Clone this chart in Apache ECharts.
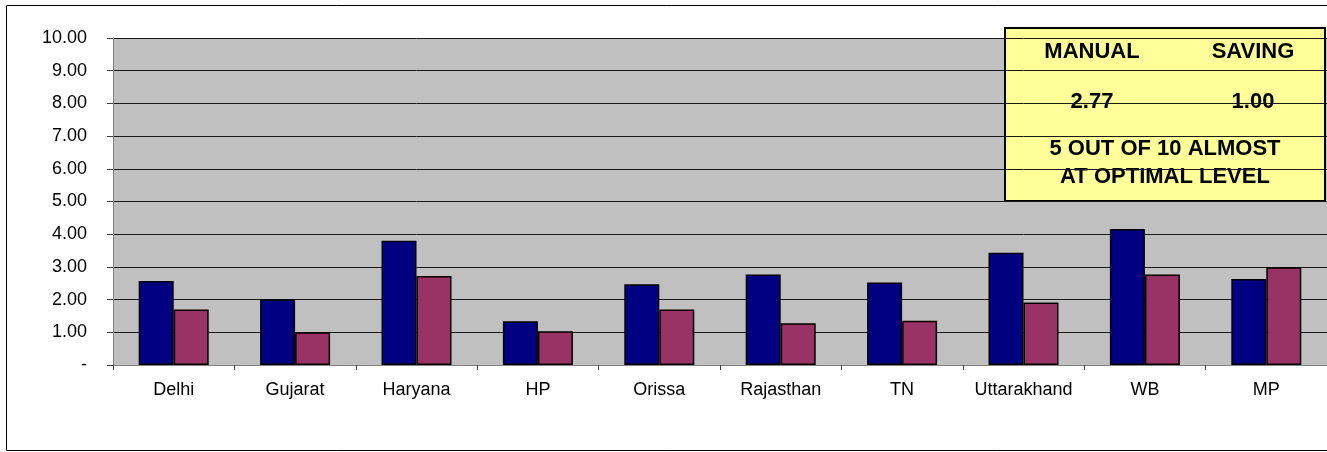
<!DOCTYPE html>
<html>
<head>
<meta charset="utf-8">
<title>Manual vs Saving by State</title>
<script src="https://cdn.jsdelivr.net/npm/echarts@6/dist/echarts.min.js"></script>
<style>
  html, body { margin: 0; padding: 0; background: #ffffff; }
  #chart { width: 1327px; height: 452px; }
</style>
</head>
<body>
<div id="chart"></div>
<script>
// States along the category axis
const states = ['Delhi', 'Gujarat', 'Haryana', 'HP', 'Orissa', 'Rajasthan', 'TN', 'Uttarakhand', 'WB', 'MP'];

// Values per state
const manualValues = [2.57, 2.00, 3.80, 1.34, 2.47, 2.77, 2.52, 3.43, 4.16, 2.63];
const savingValues = [1.70, 1.00, 2.72, 1.03, 1.70, 1.28, 1.35, 1.91, 2.77, 2.99];

// Value axis ticks
const yMin = 0;
const yMax = 10;
const yStep = 1;

// Summary box contents
const boxHeaders = ['MANUAL', 'SAVING'];
const boxValues = ['2.77', '1.00'];
const boxNote = ['5 OUT OF 10 ALMOST', 'AT OPTIMAL LEVEL'];

const FONT = '"Liberation Sans", Arial, sans-serif';
const BOX_FONT = 'bold 22px ' + FONT;

const chart = echarts.init(document.getElementById('chart'), null, { renderer: 'canvas' });

const barStyle = (color) => ({ color: color, borderColor: '#000000', borderWidth: 1.5 });

const boxText = (x, y, text) => ({
  type: 'text', x: x, y: y,
  style: { text: text, font: BOX_FONT, fill: '#000000', align: 'center', verticalAlign: 'middle' }
});

chart.setOption({
  backgroundColor: '#ffffff',
  animation: false,
  grid: { left: 113, top: 38, right: 0, bottom: 87, show: true, backgroundColor: '#C0C0C0', borderWidth: 0 },
  xAxis: {
    type: 'category',
    data: states,
    axisLine: { show: true, lineStyle: { color: '#808080', width: 1 } },
    axisTick: { show: true, interval: 0, alignWithLabel: false, length: 5, lineStyle: { color: '#404040' } },
    axisLabel: { interval: 0, color: '#000000', fontFamily: FONT, fontSize: 18, margin: 16 },
    splitLine: { show: false }
  },
  yAxis: {
    type: 'value',
    min: yMin,
    max: yMax,
    interval: yStep,
    axisLine: { show: true, lineStyle: { color: '#808080', width: 1 } },
    axisTick: { show: true, length: 6, lineStyle: { color: '#404040' } },
    axisLabel: {
      color: '#000000', fontFamily: FONT, fontSize: 18, margin: 26,
      formatter: (v) => (v === 0 ? '-' : v.toFixed(2))
    },
    splitLine: { show: true, lineStyle: { color: '#1a1a1a', width: 1 } }
  },
  series: [
    {
      name: 'MANUAL', type: 'bar', data: manualValues,
      barWidth: 35, barGap: '0%',
      itemStyle: barStyle('#000080')
    },
    {
      name: 'SAVING', type: 'bar', data: savingValues,
      barWidth: 35, barGap: '0%',
      itemStyle: barStyle('#993366')
    }
  ],
  graphic: [
    // outer chart frame
    {
      type: 'rect', silent: true, z: 100,
      shape: { x: 6.5, y: 5.5, width: 1330, height: 445 },
      style: { fill: null, stroke: '#000000', lineWidth: 1 }
    },
    // summary box
    {
      type: 'group', z: 110,
      children: [
        {
          type: 'rect',
          shape: { x: 1005, y: 28, width: 320, height: 173 },
          style: { fill: '#FFFF99', stroke: '#000000', lineWidth: 2 }
        },
        boxText(1092, 52, boxHeaders[0]),
        boxText(1253, 52, boxHeaders[1]),
        boxText(1092, 102, boxValues[0]),
        boxText(1253, 102, boxValues[1]),
        boxText(1165, 149, boxNote[0]),
        boxText(1165, 177, boxNote[1])
      ]
    }
  ]
});
</script>
</body>
</html>
